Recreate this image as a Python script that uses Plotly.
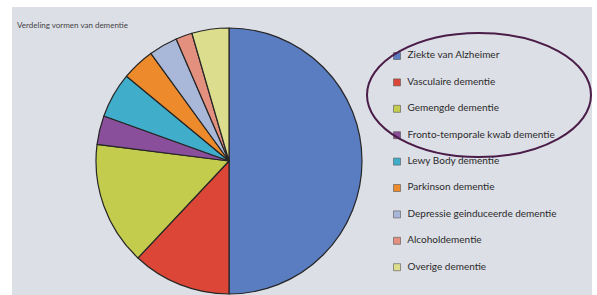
import plotly.graph_objects as go

W, H = 597, 295

labels = ["Ziekte van Alzheimer", "Vasculaire dementie", "Gemengde dementie",
          "Fronto-temporale kwab dementie", "Lewy Body dementie", "Parkinson dementie",
          "Depressie geinduceerde dementie", "Alcoholdementie", "Overige dementie"]
values = [50, 12, 15, 3.5, 5.5, 4, 3.5, 2, 4.5]
colors = ["#5A7DC2", "#DC4636", "#C4CC4E", "#8A4F9A", "#40AECB", "#EC8A2C",
          "#A9B8D8", "#E4907F", "#DCDE8E"]
title_text = "Verdeling vormen van dementie"

# pie geometry (pixels)
cx, cy, r = 229, 161, 133

fig = go.Figure()
fig.add_trace(go.Pie(
    labels=labels, values=values, sort=False, direction="clockwise", rotation=0,
    marker=dict(colors=colors, line=dict(color="#262626", width=1.2)),
    textinfo="none", hoverinfo="label+percent", showlegend=False,
    domain=dict(x=[(cx - r) / W, (cx + r) / W], y=[(H - cy - r) / H, (H - cy + r) / H]),
))

# custom legend drawn as scatter on hidden axes
leg_top, leg_step = 56, 26.4
n = len(labels)
y0_px = leg_top - leg_step / 2
y1_px = leg_top + leg_step * (n - 1) + leg_step / 2
fig.add_trace(go.Scatter(
    x=[0] * n, y=list(range(n)), mode="markers+text",
    marker=dict(symbol="square", size=7, color=colors, line=dict(color="#555", width=0.6)),
    text=["  " + t for t in labels], textposition="middle right",
    textfont=dict(family="Lato, sans-serif", size=10, color="#2a2a2a"),
    showlegend=False, hoverinfo="skip", cliponaxis=False,
))
fig.update_layout(
    xaxis=dict(domain=[397 / W, 1], range=[0, 1], visible=False, fixedrange=True),
    yaxis=dict(domain=[(H - y1_px) / H, (H - y0_px) / H], range=[n - 0.5, -0.5],
               visible=False, fixedrange=True),
)

fig.update_layout(
    width=W, height=H, margin=dict(l=0, r=0, t=0, b=0),
    paper_bgcolor="white", plot_bgcolor="rgba(0,0,0,0)",
    shapes=[
        dict(type="rect", xref="paper", yref="paper", x0=12 / W, x1=592 / W,
             y0=0, y1=(H - 7) / H, fillcolor="#DDDFE6", line=dict(width=0), layer="below"),
        dict(type="circle", xref="paper", yref="paper", x0=367 / W, x1=591 / W,
             y0=(H - 157) / H, y1=(H - 33) / H, line=dict(color="#4A1C48", width=2)),
    ],
    annotations=[dict(text=title_text, xref="paper", yref="paper", x=15 / W, y=(H - 25) / H,
                      xanchor="left", yanchor="middle", showarrow=False,
                      font=dict(family="Lato, sans-serif", size=8, color="#444"))],
)

fig.write_html("out.html", config={"displayModeBar": False},
               post_script="document.body.style.margin='0';document.body.style.overflow='hidden';")
